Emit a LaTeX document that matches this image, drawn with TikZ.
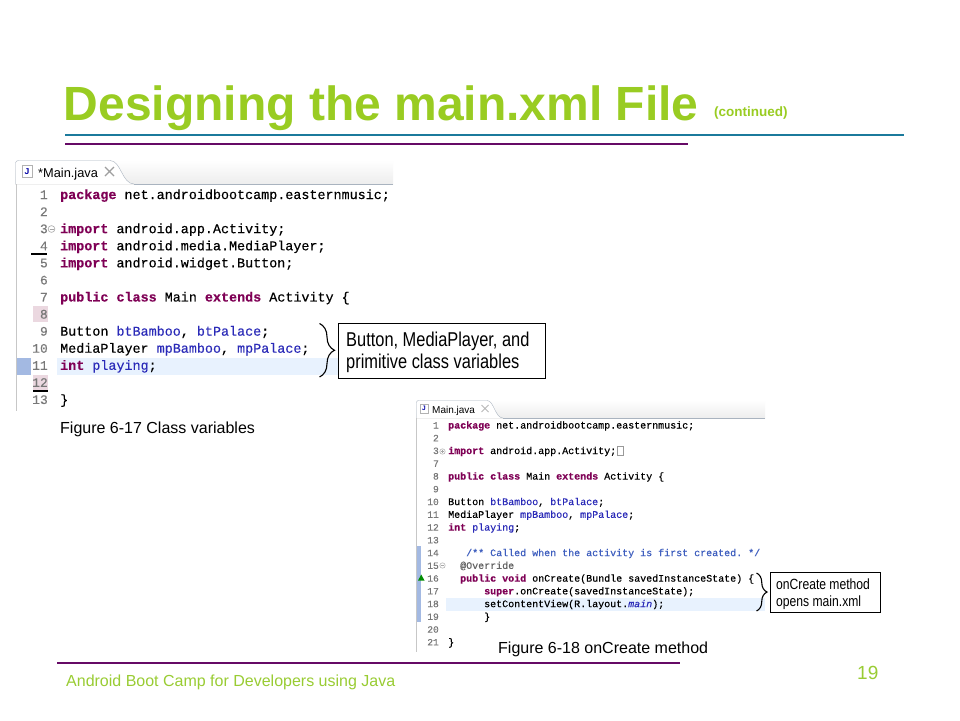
\documentclass[tikz,border=0pt]{standalone}
\usepackage{fontspec}
\setmainfont{Liberation Sans}
\setmonofont{Liberation Mono}[FakeBold=0.35]
\newfontfamily\narrowsans[FakeStretch=0.82]{Liberation Sans}
\usetikzlibrary{decorations.pathreplacing}
\definecolor{titlegreen}{HTML}{99CC22}
\definecolor{footgreen}{HTML}{99CC33}
\definecolor{tealline}{HTML}{1B7A9C}
\definecolor{purpleline}{HTML}{660A66}
\definecolor{kwc}{HTML}{7F0055}
\definecolor{fdc}{HTML}{2A2AB8}
\definecolor{cmc}{HTML}{3F5FBF}
\definecolor{anc}{HTML}{646464}
\definecolor{lnc}{HTML}{787878}
\definecolor{hlc}{HTML}{E8F2FE}
\definecolor{pinkc}{HTML}{EBD8E0}
\definecolor{markc}{HTML}{A3B9E2}
\definecolor{tabline}{HTML}{A9B3BF}
\newcommand\kw[1]{{\color{kwc}\bfseries #1}}
\newcommand\fd[1]{{\color{fdc}#1}}
\tikzset{
  codeA/.style={anchor=base west, inner sep=0pt, font=\fontsize{13.4}{13.4}\selectfont\ttfamily},
  numA/.style={anchor=base east, inner sep=0pt, text=lnc, font=\fontsize{13}{13}\selectfont\ttfamily},
  codeB/.style={anchor=base west, inner sep=0pt, font=\fontsize{10}{10}\selectfont\ttfamily},
  numB/.style={anchor=base east, inner sep=0pt, text=lnc, font=\fontsize{9.6}{9.6}\selectfont\ttfamily},
  callout/.style={draw=black, line width=0.9pt, fill=white},
  calltext/.style={anchor=base west, inner sep=0pt, font=\narrowsans},
  caption/.style={anchor=base west, inner sep=0pt, font=\fontsize{16}{16}\selectfont},
  bracestyle/.style={decorate, line width=1.1pt, black},
}
\begin{document}
\begin{tikzpicture}[x=1pt,y=-1pt]
\useasboundingbox (0,0) rectangle (960,720);
\fill[white] (0,0) rectangle (960,720);

% ---------- title ----------
\node[anchor=base west, inner sep=0pt, text=titlegreen, font=\fontsize{48}{48}\selectfont\bfseries] (title) at (63.5,120) {Designing the main.xml File};
\node[anchor=base west, inner sep=0pt, text=titlegreen, font=\fontsize{13.5}{13.5}\selectfont\bfseries] (cont) at (714,116.5) {(continued)};
\draw[tealline, line width=2.6pt] (65,135) -- (904,135);
\draw[purpleline, line width=2.6pt] (65,144) -- (688,144);

% ---------- screenshot 1 ----------
\shade[top color=white, bottom color=black!7] (15,160) rectangle (393,184);
\draw[tabline] (134,184) -- (393,184);
\draw[tabline, fill=white] (15.5,184) -- (15.5,163) to[out=90,in=180] (18.5,160.5) -- (110,160.5) .. controls (121,160.5) and (122,184) .. (134,184);
\draw[gray!60, fill=white] (22,165) rectangle (32,177);
\node[inner sep=0pt, text=blue!65!black, font=\fontsize{8.5}{8.5}\selectfont\bfseries] (iconA) at (27,171.5) {J};
\node[anchor=base west, inner sep=0pt, font=\fontsize{12.8}{12.8}\selectfont] (tabA) at (38,177) {*Main.java};
\draw[gray!75, line width=1.3pt] (105,167) -- (114,176) (105,176) -- (114,167);
\draw[black!22] (16,184) -- (16,411);
% highlights and gutter marks
\fill[hlc] (57,357.5) rectangle (393,374.5);
\fill[pinkc] (33,306) rectangle (48,322);
\fill[pinkc] (33,375) rectangle (48,390);
\fill[markc] (17,357.5) rectangle (31,375);
\draw[black, line width=2pt] (31,254) -- (47,254);
\draw[black, line width=2pt] (33,391) -- (48,391);
\draw[gray!70, fill=white, line width=0.6pt] (51.5,229) circle (3.4);
\draw[gray!70, line width=0.7pt] (49.5,229) -- (53.5,229);
\foreach \n/\txt in {
  1/{\kw{package} net.androidbootcamp.easternmusic;},
  2/{},
  3/{\kw{import} android.app.Activity;},
  4/{\kw{import} android.media.MediaPlayer;},
  5/{\kw{import} android.widget.Button;},
  6/{},
  7/{\kw{public} \kw{class} Main \kw{extends} Activity \{},
  8/{},
  9/{Button \fd{btBamboo}, \fd{btPalace};},
  10/{MediaPlayer \fd{mpBamboo}, \fd{mpPalace};},
  11/{\kw{int} \fd{playing};},
  12/{},
  13/{\}}} {
  \pgfmathsetmacro\yy{199+(\n-1)*17.08}
  \node[numA] (na\n) at (48,\yy) {\n};
  \node[codeA] (ca\n) at (60,\yy) {\strut\txt};
}
% callout 1
\draw[bracestyle, decoration={brace, amplitude=15pt, aspect=0.5}] (319.5,323.5) -- (319.5,377);
\draw[callout] (338,323) rectangle (545,378);
\node[calltext, font=\narrowsans\fontsize{20}{20}\selectfont] (ta1) at (346,346) {Button, MediaPlayer, and};
\node[calltext, font=\narrowsans\fontsize{20}{20}\selectfont] (ta2) at (346,368) {primitive class variables};
\node[caption] (capA) at (60,433) {Figure 6-17 Class variables};

% ---------- screenshot 2 ----------
\shade[top color=white, bottom color=black!7] (416,400) rectangle (765,418);
\draw[tabline] (503,418) -- (765,418);
\draw[tabline, fill=white] (416.5,418) -- (416.5,402.5) to[out=90,in=180] (418.5,400.5) -- (487,400.5) .. controls (494,400.5) and (495,418) .. (503,418);
\draw[gray!60, fill=white] (420,404) rectangle (428,413);
\node[inner sep=0pt, text=blue!65!black, font=\fontsize{6.5}{6.5}\selectfont\bfseries] (iconB) at (424,408.7) {J};
\node[anchor=base west, inner sep=0pt, font=\fontsize{10}{10}\selectfont] (tabB) at (432,413) {Main.java};
\draw[gray!55, line width=1pt] (481.5,405) -- (488.5,412) (481.5,412) -- (488.5,405);
\draw[black!22] (416.5,418) -- (416.5,652);
\fill[hlc] (446,597.5) rectangle (765,610.5);
\fill[markc] (416.5,546) rectangle (420.5,622);
\fill[green!55!black] (418,580.5) -- (424.5,580.5) -- (421.25,574.5) -- cycle;
\draw[gray!70, fill=white, line width=0.5pt] (442.5,451.5) circle (2.7);
\draw[gray!70, line width=0.6pt] (440.9,451.5) -- (444.1,451.5) (442.5,449.9) -- (442.5,453.1);
\draw[gray!70, fill=white, line width=0.5pt] (442.5,565.5) circle (2.7);
\draw[gray!70, line width=0.6pt] (440.9,565.5) -- (444.1,565.5);
\draw[gray!80, line width=0.6pt] (617.5,446) rectangle (623.5,455);
\foreach \i/\n/\ind/\txt in {
  0/1/0/{\kw{package} net.androidbootcamp.easternmusic;},
  1/2/0/{},
  2/3/0/{\kw{import} android.app.Activity;},
  3/7/0/{},
  4/8/0/{\kw{public} \kw{class} Main \kw{extends} Activity \{},
  5/9/0/{},
  6/10/0/{Button \fd{btBamboo}, \fd{btPalace};},
  7/11/0/{MediaPlayer \fd{mpBamboo}, \fd{mpPalace};},
  8/12/0/{\kw{int} \fd{playing};},
  9/13/0/{},
  10/14/3/{{\color{cmc}/** Called when the activity is first created. */}},
  11/15/2/{{\color{anc}@Override}},
  12/16/2/{\kw{public} \kw{void} onCreate(Bundle savedInstanceState) \{},
  13/17/6/{\kw{super}.onCreate(savedInstanceState);},
  14/18/6/{setContentView(R.layout.{\color{fdc}\itshape main});},
  15/19/6/{\}},
  16/20/0/{},
  17/21/0/{\}}} {
  \pgfmathsetmacro\yy{428.5+\i*12.76}
  \pgfmathsetmacro\xx{448+\ind*6}
  \node[numB] (nb\n) at (439,\yy) {\n};
  \node[codeB] (cb\n) at (\xx,\yy) {\strut\txt};
}
% callout 2
\draw[bracestyle, decoration={brace, amplitude=10.5pt, aspect=0.5}] (756.5,573) -- (756.5,611);
\draw[callout] (770,572) rectangle (880,612);
\node[calltext, font=\narrowsans\fontsize{14.8}{14.8}\selectfont] (tb1) at (776,589) {onCreate method};
\node[calltext, font=\narrowsans\fontsize{14.8}{14.8}\selectfont] (tb2) at (776,606.5) {opens main.xml};
\node[caption] (capB) at (498,653) {Figure 6-18 onCreate method};

% ---------- footer ----------
\draw[purpleline, line width=2.2pt] (57,663) -- (680,663);
\node[anchor=base west, inner sep=0pt, text=footgreen, font=\fontsize{16}{16}\selectfont] (foot) at (66,686.5) {Android Boot Camp for Developers using Java};
\node[anchor=base west, inner sep=0pt, text=footgreen, font=\fontsize{19}{19}\selectfont] (pnum) at (857,679.5) {19};
\end{tikzpicture}
\end{document}
